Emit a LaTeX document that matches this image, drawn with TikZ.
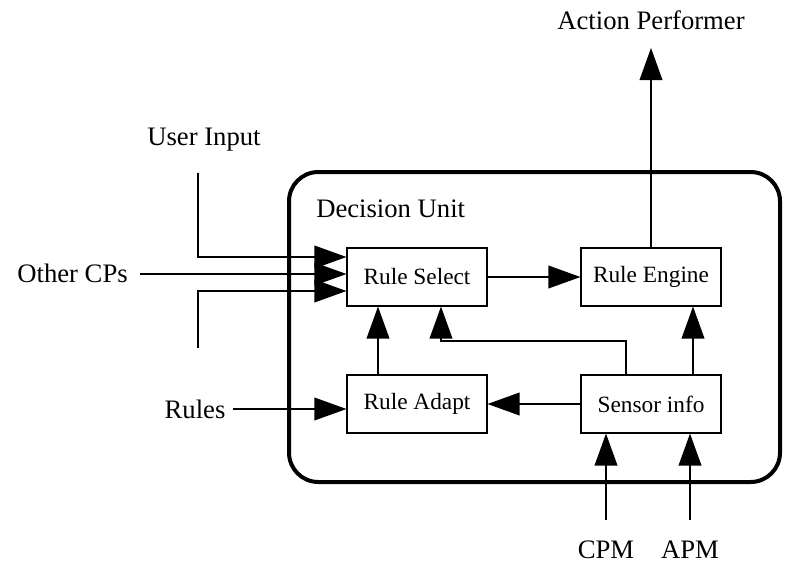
\documentclass[tikz,border=0pt]{standalone}
\usepackage{fontspec}
\setmainfont{Liberation Serif}
\usetikzlibrary{arrows.meta, positioning}
\tikzset{
    % Box styles
    unitbox/.style={
        rectangle,
        draw=black,
        line width=0.8pt,
        minimum width=105pt,
        minimum height=43.5pt,
        align=center,
        font=\fontsize{17.5}{20}\selectfont
    },
    outerlabel/.style={
        font=\fontsize{20}{24}\selectfont,
        inner sep=0pt
    },
    % Arrow styles
    arrow/.style={
        -{Triangle[length=24pt, width=17pt]},
        line width=1.1pt,
        draw=black
    }
}
\begin{document}
\begin{tikzpicture}[x=0.75pt, y=-0.75pt]
    \useasboundingbox (0,0) rectangle (786,565);

    % Decision unit frame
    \draw[line width=3pt, rounded corners=22pt] (289,172) rectangle (780,482);
    \node[outerlabel, anchor=west] (unitlbl) at (316,209) {Decision Unit};

    % Inner boxes
    \node[unitbox] (rulesel) at (417,277) {Rule Select};
    \node[unitbox] (ruleeng) at (651,277) {Rule Engine};
    \node[unitbox] (ruleadp) at (417,404) {Rule Adapt};
    \node[unitbox] (sensor) at (651,404) {Sensor info};

    % Outer labels
    \node[outerlabel] (action) at (651,20) {Action Performer};
    \node[outerlabel] (userin) at (204,140) {User Input};
    \node[outerlabel, anchor=east] (othercp) at (128,273) {Other CPs};
    \node[outerlabel] (rules) at (195,409) {Rules};
    \node[outerlabel] (cpm) at (606,550) {CPM};
    \node[outerlabel] (apm) at (690,550) {APM};

    % Free ends
    \coordinate (userend) at (198,173);
    \coordinate (rulesend) at (198,348);
    \coordinate (otherend) at (140,274);
    \coordinate (rulesin) at (233,409);
    \coordinate (actionend) at (651,48);
    \coordinate (cpmend) at (606,520);
    \coordinate (apmend) at (690,520);

    % Inputs into Rule Select
    \draw[arrow] (userend) |- (rulesel.west |- 0,257);
    \draw[arrow] (otherend) -- (rulesel.west |- otherend);
    \draw[arrow] (rulesend) |- (rulesel.west |- 0,291);
    \draw[arrow] (rulesin) -- (ruleadp.west |- rulesin);

    % Internal flow
    \draw[arrow] (rulesel) -- (ruleeng);
    \draw[arrow] (ruleeng.north) -- (actionend);
    \draw[arrow] (ruleadp.north -| 378,0) -- (rulesel.south -| 378,0);
    \draw[arrow] (sensor.west) -- (ruleadp.east);
    \draw[arrow] (sensor.north -| 626,0) |- (441,341) -- (rulesel.south -| 441,0);
    \draw[arrow] (sensor.north -| 693,0) -- (ruleeng.south -| 693,0);

    % Sensor inputs
    \draw[arrow] (cpmend) -- (sensor.south -| cpmend);
    \draw[arrow] (apmend) -- (sensor.south -| apmend);
\end{tikzpicture}
\end{document}
